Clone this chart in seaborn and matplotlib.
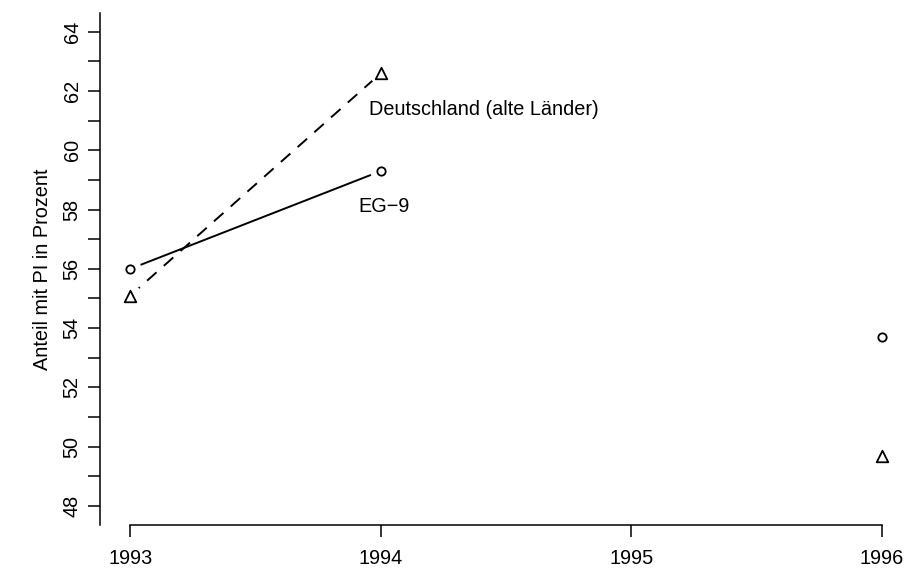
import numpy as np
import matplotlib
matplotlib.use("Agg")
import matplotlib.pyplot as plt
import seaborn as sns

# Werte
jahre = [1993, 1994, 1995, 1996]
eg9 = [56.0, 59.3, np.nan, 53.7]
deutschland_alt = [55.1, 62.6, np.nan, 49.7]
y_ticks_major = [48, 50, 52, 54, 56, 58, 60, 62, 64]
y_ticks_minor = [49, 51, 53, 55, 57, 59, 61, 63]
label_eg9 = "EG\u22129"
label_de = "Deutschland (alte L\u00e4nder)"
y_titel = "Anteil mit PI in Prozent"

sns.set_style("ticks")
plt.rcParams['font.family'] = ['Liberation Sans', 'DejaVu Sans']
plt.rcParams['text.color'] = 'black'
plt.rcParams['axes.labelcolor'] = 'black'
plt.rcParams['xtick.color'] = 'black'
plt.rcParams['ytick.color'] = 'black'

fig = plt.figure(figsize=(9.05, 5.68), dpi=100)
ax = fig.add_axes([100.3 / 905, 43 / 568, 811.7 / 905, 512.3 / 568])

x = np.array(jahre, dtype=float)
y1 = np.array(eg9)
y2 = np.array(deutschland_alt)

# Linien (Lücke bei fehlendem Wert 1995)
ax.plot(x, y1, color='black', lw=1.4, ls='-', zorder=2)
ax.plot(x, y2, color='black', lw=1.4, ls=(0, (6.5, 5)), zorder=2)

# weiße Scheiben um die Punkte (Stil type="b")
ok1 = ~np.isnan(y1)
ok2 = ~np.isnan(y2)
sns.scatterplot(x=x[ok1], y=y1[ok1], ax=ax, color='white', s=16 ** 2,
                linewidth=0, zorder=3)
sns.scatterplot(x=x[ok2], y=y2[ok2], ax=ax, color='white', s=17 ** 2,
                linewidth=0, zorder=3)

sns.scatterplot(x=x[ok1], y=y1[ok1], ax=ax, marker='o', color='white',
                edgecolor='black', s=6.0 ** 2, linewidth=1.3, zorder=4)
sns.scatterplot(x=x[ok2], y=y2[ok2], ax=ax, marker='^', color='white',
                edgecolor='black', s=8.3 ** 2, linewidth=1.3, zorder=4)

fs = 14.3
ax.annotate(label_de, (x[1], y2[1]), xytext=(-12, -42), textcoords='offset pixels',
            ha='left', va='baseline', fontsize=fs, color='black')
ax.annotate(label_eg9, (x[1], y1[1]), xytext=(3, -41), textcoords='offset pixels',
            ha='center', va='baseline', fontsize=fs, color='black')

ax.set_xlim(1992.88, 1996.12)
ax.set_ylim(47.36, 64.64)

ax.set_xticks(jahre)
ax.set_xticklabels([str(j) for j in jahre])
ax.set_yticks(y_ticks_major)
ax.set_yticks(y_ticks_minor, minor=True)
ax.set_yticklabels([str(v) for v in y_ticks_major])

ax.tick_params(axis='both', which='both', length=8.6, width=1.1, color='black',
               labelsize=fs, labelcolor='black')
ax.tick_params(axis='x', pad=9)
ax.tick_params(axis='y', which='major', labelrotation=90, pad=4.8)
for lab in ax.get_yticklabels():
    lab.set_va('center')

ax.set_ylabel(y_titel, fontsize=fs, labelpad=7.5, color='black')

for s in ['top', 'right']:
    ax.spines[s].set_visible(False)
ax.spines['left'].set_linewidth(1.1)
ax.spines['bottom'].set_linewidth(1.1)
ax.spines['left'].set_color('black')
ax.spines['bottom'].set_color('black')
ax.spines['bottom'].set_bounds(jahre[0], jahre[-1])

fig.savefig("out.png", dpi=100)
